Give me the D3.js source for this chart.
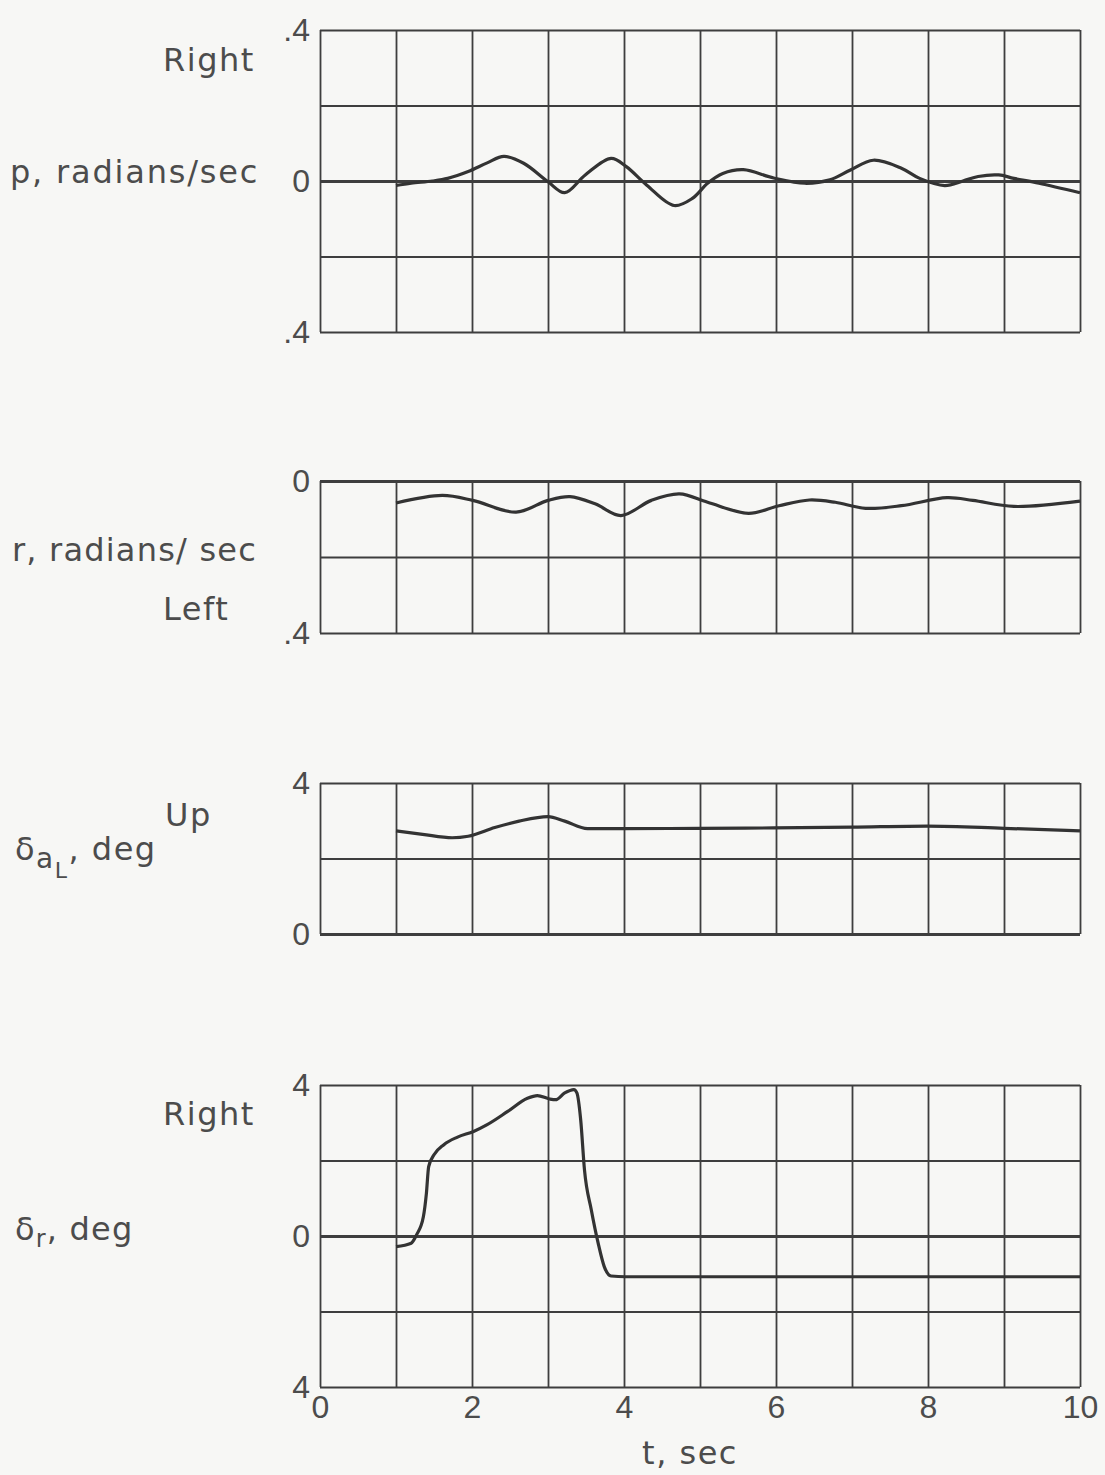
<!DOCTYPE html>
<html>
<head>
<meta charset="utf-8">
<script src="https://cdn.jsdelivr.net/npm/d3@7"></script>
<style>
  body { margin: 0; background: #f7f7f5; }
  svg { display: block; font-family: "DejaVu Sans", sans-serif; }
  .grid line { stroke: #3e3e3e; stroke-width: 1.8; }
  .grid .zero line { stroke-width: 3; }
  .curve { fill: none; stroke: #333; stroke-width: 3.2; stroke-linejoin: round; }
  .lbl text, text.lbl { fill: #4c4c4c; font-size: 32px; }
</style>
</head>
<body>
<svg id="chart"></svg>
<script>
// time grid, one line per second
const timeTicks = [0, 1, 2, 3, 4, 5, 6, 7, 8, 9, 10];
const timeLabels = [0, 2, 4, 6, 8, 10];

// p, radians/sec
const pGrid = [-0.4, -0.2, 0, 0.2, 0.4];
const pTicks = [-0.4, 0, 0.4];
const pTickLabels = ['.4', '0', '.4'];
const pTime = [1, 1.2, 1.48, 1.68, 1.95, 2.2, 2.42, 2.68, 3.0, 3.22, 3.49, 3.83, 4.03, 4.3, 4.66, 4.9, 5.1, 5.3, 5.57, 5.97, 6.38, 6.71, 6.98, 7.28, 7.65, 7.89, 8.22, 8.46, 8.66, 8.93, 9.13, 9.46, 10];
const pValues = [-0.012, -0.006, 0, 0.007, 0.025, 0.048, 0.065, 0.047, -0.002, -0.031, 0.016, 0.060, 0.038, -0.011, -0.065, -0.046, -0.006, 0.020, 0.030, 0.008, -0.006, 0.003, 0.029, 0.055, 0.034, 0.007, -0.012, 0, 0.012, 0.016, 0.007, -0.006, -0.031];

// r, radians/sec
const rGrid = [-0.4, -0.2, 0];
const rTicks = [-0.4, 0];
const rTickLabels = ['.4', '0'];
const rTime = [1, 1.61, 2.01, 2.58, 3.0, 3.29, 3.62, 3.96, 4.36, 4.73, 5.1, 5.64, 6.04, 6.44, 6.78, 7.18, 7.65, 8.25, 8.59, 9.13, 10];
const rValues = [-0.058, -0.038, -0.051, -0.082, -0.051, -0.041, -0.060, -0.091, -0.051, -0.034, -0.056, -0.085, -0.065, -0.050, -0.056, -0.072, -0.065, -0.044, -0.051, -0.067, -0.053];

// delta aL, deg
const daGrid = [0, 2, 4];
const daTicks = [0, 4];
const daTickLabels = ['0', '4'];
const daTime = [1, 1.35, 1.74, 1.95, 2.3, 2.62, 3.0, 3.22, 3.52, 4, 5, 5.97, 7, 7.99, 9, 10];
const daValues = [2.73, 2.64, 2.55, 2.59, 2.82, 2.99, 3.11, 2.99, 2.79, 2.79, 2.80, 2.81, 2.83, 2.86, 2.80, 2.73];

// delta r, deg
const drGrid = [-4, -2, 0, 2, 4];
const drTicks = [-4, 0, 4];
const drTickLabels = ['4', '0', '4'];
const drTime = [1, 1.2, 1.27, 1.36, 1.4, 1.43, 1.5, 1.63, 1.81, 2.02, 2.2, 2.47, 2.73, 2.86, 3.02, 3.1, 3.22, 3.34, 3.38, 3.43, 3.48, 3.57, 3.66, 3.74, 3.83, 4.02, 6, 8, 10];
const drValues = [-0.28, -0.19, 0.03, 0.51, 1.13, 1.84, 2.15, 2.42, 2.62, 2.77, 2.95, 3.30, 3.65, 3.72, 3.63, 3.61, 3.79, 3.88, 3.79, 3.08, 1.75, 0.69, -0.19, -0.81, -1.06, -1.08, -1.08, -1.08, -1.08];

const width = 1105;
const height = 1475;
const left = 320;
const right = 1080;

const svg = d3.select('#chart')
  .attr('width', width)
  .attr('height', height);

const x = d3.scaleLinear().domain([0, 10]).range([left, right]);

const panels = [
  { domain: [-0.4, 0.4], top: 30, bottom: 332, grid: pGrid, ticks: pTicks, labels: pTickLabels, t: pTime, v: pValues, curve: d3.curveCatmullRom },
  { domain: [-0.4, 0], top: 481, bottom: 633, grid: rGrid, ticks: rTicks, labels: rTickLabels, t: rTime, v: rValues, curve: d3.curveCatmullRom },
  { domain: [0, 4], top: 783, bottom: 934, grid: daGrid, ticks: daTicks, labels: daTickLabels, t: daTime, v: daValues, curve: d3.curveMonotoneX },
  { domain: [-4, 4], top: 1085, bottom: 1387, grid: drGrid, ticks: drTicks, labels: drTickLabels, t: drTime, v: drValues, curve: d3.curveMonotoneX },
];

panels.forEach((p, k) => {
  const y = d3.scaleLinear().domain(p.domain).range([p.bottom, p.top]);
  const g = svg.append('g');

  // vertical grid
  g.append('g')
    .attr('class', 'grid')
    .attr('transform', `translate(0,${p.bottom})`)
    .call(d3.axisBottom(x).tickValues(timeTicks).tickSize(-(p.bottom - p.top)).tickFormat(''))
    .call(a => a.select('.domain').remove());

  // horizontal grid
  g.append('g')
    .attr('class', 'grid')
    .attr('transform', `translate(${left},0)`)
    .call(d3.axisLeft(y).tickValues(p.grid).tickSize(-(right - left)).tickFormat(''))
    .call(a => a.select('.domain').remove())
    .call(a => a.selectAll('.tick').classed('zero', d => d === 0));

  // value labels
  g.append('g')
    .attr('class', 'lbl')
    .attr('transform', `translate(${left},0)`)
    .call(d3.axisLeft(y).tickValues(p.ticks).tickFormat((d, i) => p.labels[i]).tickSize(0).tickPadding(10))
    .call(a => a.select('.domain').remove())
    .call(a => a.selectAll('text').attr('fill', '#4c4c4c'));

  const line = d3.line()
    .x(d => x(d[0]))
    .y(d => y(d[1]))
    .curve(p.curve);

  g.append('path')
    .datum(d3.zip(p.t, p.v))
    .attr('class', 'curve')
    .attr('d', line);

  if (k === panels.length - 1) {
    svg.append('g')
      .attr('class', 'lbl')
      .attr('transform', `translate(0,${p.bottom})`)
      .call(d3.axisBottom(x).tickValues(timeLabels).tickFormat(d3.format('d')).tickSize(0).tickPadding(8))
      .call(a => a.select('.domain').remove())
      .call(a => a.selectAll('text').attr('fill', '#4c4c4c'));
  }
});

// side labels
const side = svg.append('g').attr('class', 'lbl');
const label = (txt, xx, yy, ls) => side.append('text')
  .attr('class', 'lbl')
  .attr('x', xx).attr('y', yy)
  .attr('letter-spacing', ls)
  .text(txt);

label('Right', 163, 71, 1.5);
label('p, radians/sec', 10, 183, 1.8);
label('r, radians/ sec', 12, 561, 1.2);
label('Left', 163, 620, 1.5);
label('Up', 165, 826, 1.5);
label('Right', 163, 1125, 1.5);

const da = side.append('text').attr('class', 'lbl').attr('x', 15).attr('y', 860).attr('letter-spacing', 1.5);
da.append('tspan').text('δ');
da.append('tspan').attr('dy', 8).attr('font-size', 28).text('a');
da.append('tspan').attr('dy', 10).attr('font-size', 22).text('L');
da.append('tspan').attr('dy', -18).text(', deg');

const dr = side.append('text').attr('class', 'lbl').attr('x', 15).attr('y', 1240).attr('letter-spacing', 1.2);
dr.append('tspan').text('δ');
dr.append('tspan').attr('dy', 7).attr('font-size', 24).text('r');
dr.append('tspan').attr('dy', -7).text(', deg');

svg.append('text')
  .attr('class', 'lbl')
  .attr('x', 690).attr('y', 1464)
  .attr('text-anchor', 'middle')
  .attr('letter-spacing', 1.5)
  .text('t, sec');
</script>
</body>
</html>
